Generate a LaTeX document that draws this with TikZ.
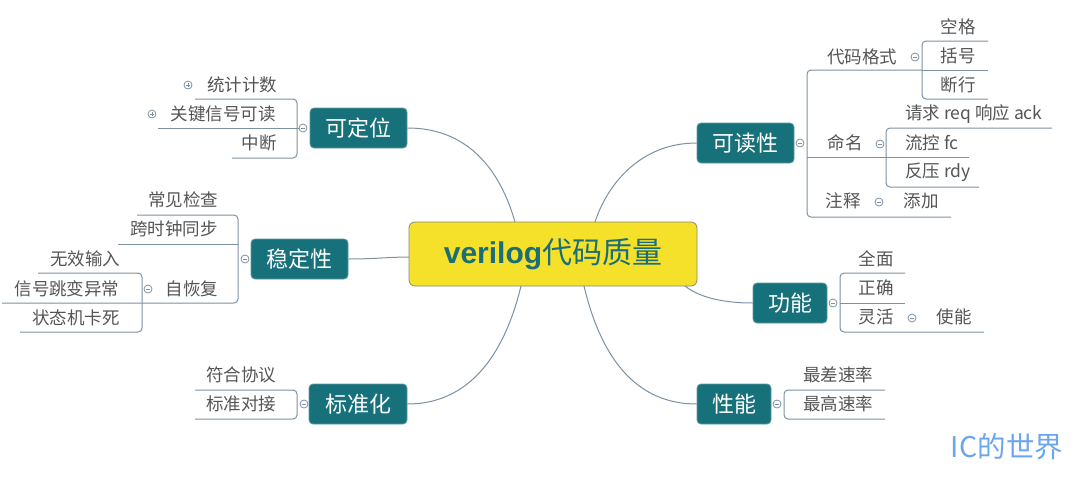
\documentclass[tikz,border=0pt]{standalone}
\usepackage{fontspec}
\setmainfont{Noto Sans CJK SC}
\newfontfamily\latinbold{Liberation Sans}[BoldFont={Liberation Sans Bold}]
\definecolor{tealbox}{HTML}{17717B}
\definecolor{tealedge}{HTML}{5E9AA0}
\definecolor{tealtext}{HTML}{1A6E78}
\definecolor{yellowbox}{HTML}{F5E12A}
\definecolor{yellowedge}{HTML}{8C8A70}
\definecolor{linecol}{HTML}{7D91A3}
\definecolor{txtgray}{HTML}{555555}
\definecolor{wmblue}{HTML}{6CA6EE}
\tikzset{
  item/.style={text=txtgray, font=\fontsize{17.5}{19}\selectfont, inner sep=0pt},
  topic/.style={fill=tealbox, draw=tealedge, line width=0.8pt, text=white, rounded corners=4pt,
    font=\fontsize{22}{24}\selectfont, minimum height=40pt, inner sep=0pt},
  ln/.style={draw=linecol, line width=1pt},
  br/.style={ln, rounded corners=4pt},
  tog/.style={circle, draw=linecol, fill=white, line width=0.8pt, minimum size=8pt, inner sep=0pt,
    path picture={\draw[linecol, line width=0.7pt] ([xshift=-2pt]path picture bounding box.center) -- ([xshift=2pt]path picture bounding box.center);}},
  togplus/.style={tog, path picture={\draw[linecol, line width=0.7pt] ([xshift=-2pt]path picture bounding box.center) -- ([xshift=2pt]path picture bounding box.center) ([yshift=-2pt]path picture bounding box.center) -- ([yshift=2pt]path picture bounding box.center);}}
}
\begin{document}
\begin{tikzpicture}[x=1pt,y=-1pt]
\useasboundingbox (0,0) rectangle (1080,483);
\fill[white] (0,0) rectangle (1080,483);

% central node
\node[fill=yellowbox, draw=yellowedge, line width=0.8pt, rounded corners=6pt, minimum width=288pt, minimum height=64pt, inner sep=0pt, text=tealtext]
  (root) at (553,254) {{\latinbold\bfseries\fontsize{30}{32}\selectfont verilog}{\fontsize{30}{32}\selectfont 代码质量}};

% topics
\node[topic, minimum width=97pt] (kdw) at (358.5,128) {可定位};
\node[topic, minimum width=97pt] (wdx) at (299.5,259) {稳定性};
\node[topic, minimum width=98pt] (bzh) at (358,404) {标准化};
\node[topic, minimum width=97pt] (kdx) at (745.5,143) {可读性};
\node[topic, minimum width=74pt] (gn) at (790,303) {功能};
\node[topic, minimum width=74pt] (xn) at (734,404) {性能};

% center connectors
\coordinate (r1) at (515,222);
\coordinate (r2) at (409,257);
\coordinate (r3) at (521,286);
\coordinate (r4) at (595,222);
\coordinate (r5) at (685,286);
\coordinate (r6) at (584,286);
\draw[ln] (kdw.east) .. controls (475,128) and (503,180) .. (r1);
\draw[ln] (wdx.east) .. controls (375,259) and (390,257) .. (r2);
\draw[ln] (bzh.east) .. controls (478,404) and (508,340) .. (r3);
\draw[ln] (kdx.west) .. controls (640,143) and (607,185) .. (r4);
\draw[ln] (gn.west) .. controls (725,303) and (700,298) .. (r5);
\draw[ln] (xn.west) .. controls (628,404) and (598,345) .. (r6);

% ---------- 可定位 ----------
\draw[br] (195,99) -- (297,99) -- (297,158) -- (232,158);
\draw[ln] (158,128) -- (303,128);
\node[tog] (t1) at (303,128) {};
\node[item] (a1) at (242,85) {统计计数};
\node[item] (a2) at (223,114) {关键信号可读};
\node[item] (a3) at (259,143) {中断};
\node[togplus] (p1) at (188,85) {};
\node[togplus] (p2) at (152,114) {};

% ---------- 稳定性 ----------
\draw[br] (137,215) -- (238,215) -- (238,303) -- (2,303);
\draw[ln] (118,244) -- (238,244);
\node[tog] (t2) at (245,259) {};
\node[item] (b1) at (183,200) {常见检查};
\node[item] (b2) at (174,229) {跨时钟同步};
\node[item] (b3) at (192,289) {自恢复};
\node[tog] (t3) at (148,289) {};
\draw[br] (38,273) -- (142,273) -- (142,332) -- (20,332);
\node[item] (c1) at (85,259) {无效输入};
\node[item] (c2) at (67,289) {信号跳变异常};
\node[item] (c3) at (76,318) {状态机卡死};

% ---------- 标准化 ----------
\draw[br] (195,390) -- (297,390) -- (297,419) -- (195,419);
\node[tog] (t4) at (304,404) {};
\node[item] (d1) at (241,375) {符合协议};
\node[item] (d2) at (241,404) {标准对接};

% ---------- 可读性 ----------
\node[tog] (t5) at (800,143) {};
\draw[br] (922,70) -- (807,70) -- (807,217) -- (951,217);
\draw[ln] (807,157) -- (969,157);
\node[item] (e1) at (862,57) {代码格式};
\node[tog] (t6) at (915,57) {};
\draw[br] (988,41) -- (922,41) -- (922,99) -- (988,99);
\draw[ln] (922,70) -- (988,70);
\node[item] (f1) at (958,27) {空格};
\node[item] (f2) at (958,56) {括号};
\node[item] (f3) at (958,85) {断行};
\node[item] (e2) at (845,143) {命名};
\node[tog] (t7) at (880,144) {};
\draw[br] (1052,128) -- (886,128) -- (886,187) -- (979,187);
\node[item, anchor=west] (g1) at (905,114) {请求 req 响应 ack};
\node[item, anchor=west] (g2) at (905,143) {流控 fc};
\node[item, anchor=west] (g3) at (905,172) {反压 rdy};
\node[item] (e3) at (843,201) {注释};
\node[tog] (t8) at (879,202) {};
\node[item] (h1) at (921,201) {添加};

% ---------- 功能 ----------
\node[tog] (t9) at (833,303) {};
\draw[br] (905,273) -- (840,273) -- (840,332) -- (984,332);
\draw[ln] (840,303) -- (905,303);
\node[item] (i1) at (876,259) {全面};
\node[item] (i2) at (876,288) {正确};
\node[item] (i3) at (876,317) {灵活};
\node[tog] (t10) at (912,318) {};
\node[item] (j1) at (954,317) {使能};

% ---------- 性能 ----------
\node[tog] (t11) at (777,404) {};
\draw[br] (885,390) -- (784,390) -- (784,419) -- (885,419);
\node[item] (k1) at (838,375) {最差速率};
\node[item] (k2) at (838,404) {最高速率};

% watermark
\node[text=wmblue, font=\fontsize{28.5}{30}\selectfont, inner sep=0pt] (wm) at (1007,447) {IC的世界};
\end{tikzpicture}
\end{document}
